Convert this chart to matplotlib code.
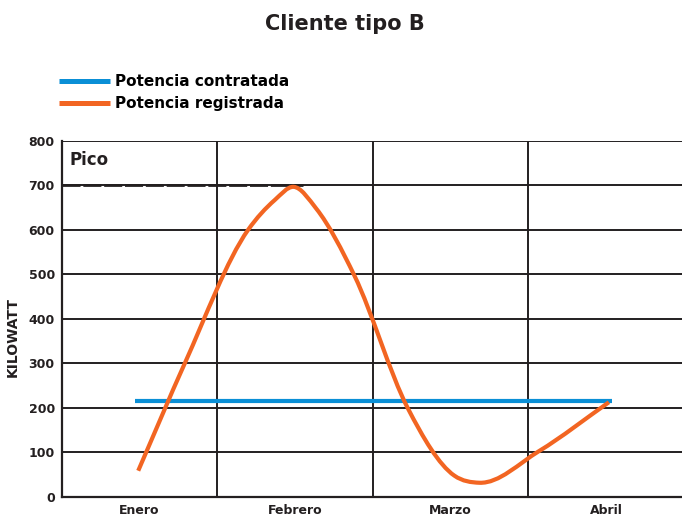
import matplotlib
matplotlib.use("Agg")
import matplotlib.pyplot as plt
from matplotlib.path import Path
from matplotlib.patches import PathPatch
from matplotlib.lines import Line2D

# Monthly categories and axis ticks
months = ["Enero", "Febrero", "Marzo", "Abril"]
month_pos = [0.5, 1.5, 2.5, 3.5]
y_ticks = [0, 100, 200, 300, 400, 500, 600, 700, 800]

# Contracted power (flat) over the period
contracted_x = [0.471, 3.54]
contracted_kw = [215, 215]

# Registered power, sampled along the month axis
registered_x = [0.492, 0.791, 1.198, 1.369, 1.491, 1.637, 1.883, 2.225,
                2.525, 2.686, 3.069, 3.519]
registered_kw = [59, 300, 600, 667, 697, 648, 497, 200,
                 48, 32, 103, 213]

# Peak reference level
peak_kw = 700
peak_x = [0.0, 1.55]

BLUE = "#0a8fd6"
ORANGE = "#f26522"
INK = "#231f20"


def smooth_path(xs, ys):
    """Cubic Hermite curve through the samples, built as Bezier segments."""
    n = len(xs)
    h = [xs[i + 1] - xs[i] for i in range(n - 1)]
    d = [(ys[i + 1] - ys[i]) / h[i] for i in range(n - 1)]
    slopes = [d[0]]
    for i in range(1, n - 1):
        slopes.append((h[i] * d[i - 1] + h[i - 1] * d[i]) / (h[i - 1] + h[i]))
    slopes.append(d[-1])
    verts = [(xs[0], ys[0])]
    codes = [Path.MOVETO]
    for i in range(n - 1):
        t = h[i] / 3.0
        verts += [(xs[i] + t, ys[i] + slopes[i] * t),
                  (xs[i + 1] - t, ys[i + 1] - slopes[i + 1] * t),
                  (xs[i + 1], ys[i + 1])]
        codes += [Path.CURVE4] * 3
    return Path(verts, codes)


fig = plt.figure(figsize=(6.82, 5.17), dpi=100)
ax = fig.add_axes([0.0905, 0.0387, 0.912, 0.6886])

ax.set_xlim(0, 4)
ax.set_ylim(0, 800)

for x in [1, 2, 3]:
    ax.axvline(x, color=INK, lw=1.4, zorder=1)
for y in y_ticks[1:]:
    ax.axhline(y, color=INK, lw=1.4, zorder=1)

ax.plot(peak_x, [peak_kw, peak_kw], color=INK, lw=2.0,
        dashes=(6.5, 1.0), zorder=2)

ax.plot(contracted_x, contracted_kw, color=BLUE, lw=3, zorder=3,
        solid_capstyle="butt")
ax.add_patch(PathPatch(smooth_path(registered_x, registered_kw),
                       facecolor="none", edgecolor=ORANGE, lw=3,
                       capstyle="butt", joinstyle="round", zorder=4))

for side in ["top", "right"]:
    ax.spines[side].set_visible(False)
for side in ["left", "bottom"]:
    ax.spines[side].set_color(INK)
    ax.spines[side].set_linewidth(1.6)

ax.set_xticks(month_pos)
ax.set_xticklabels(months, fontsize=9, fontweight="bold", color=INK)
ax.set_yticks(y_ticks)
ax.set_yticklabels([str(v) for v in y_ticks], fontsize=9,
                   fontweight="bold", color=INK)
ax.tick_params(length=0, pad=5)

ax.set_ylabel("KILOWATT", fontsize=10, fontweight="bold", color=INK)
ax.yaxis.set_label_coords(-0.068, 0.45)

ax.text(0.05, 758, "Pico", fontsize=12, fontweight="bold", color=INK,
        va="center", ha="left")

fig.text(0.506, 0.953, "Cliente tipo B", ha="center", va="center",
         fontsize=15, fontweight="bold", color=INK)

handles = [Line2D([], [], color=BLUE, lw=3.6, solid_capstyle="butt"),
           Line2D([], [], color=ORANGE, lw=3.6, solid_capstyle="butt")]
fig.legend(handles, ["Potencia contratada", "Potencia registrada"],
           loc="upper left", bbox_to_anchor=(0.078, 0.868), frameon=False,
           prop={"size": 11, "weight": "bold"}, handlelength=3.3,
           handletextpad=0.35, labelspacing=0.45, borderaxespad=0)

fig.savefig("out.png", dpi=100)
